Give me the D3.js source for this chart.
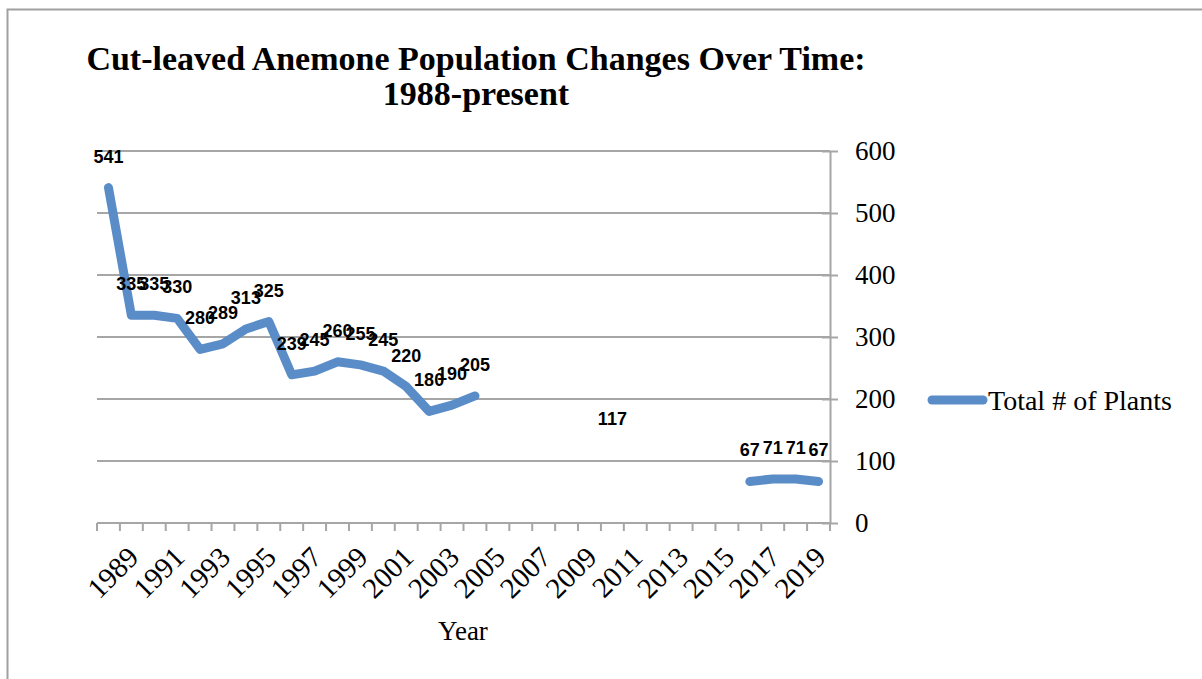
<!DOCTYPE html>
<html>
<head>
<meta charset="utf-8">
<script src="https://cdn.jsdelivr.net/npm/d3@7"></script>
<style>
  html, body { margin: 0; padding: 0; background: #fff; }
  svg { display: block; }
</style>
</head>
<body>
<svg id="chart" width="1202" height="679"></svg>
<script>
// Survey years (one category per year)
const years = [1988, 1989, 1990, 1991, 1992, 1993, 1994, 1995, 1996, 1997,
  1998, 1999, 2000, 2001, 2002, 2003, 2004, 2005, 2006, 2007, 2008, 2009,
  2010, 2011, 2012, 2013, 2014, 2015, 2016, 2017, 2018, 2019];

// Total number of plants counted; null where no count was made
const plants = [541, 335, 335, 330, 280, 289, 313, 325, 239, 245,
  260, 255, 245, 220, 180, 190, 205, null, null, null, null, null,
  117, null, null, null, null, null, 67, 71, 71, 67];

// Years that carry a label on the category axis
const xTickLabels = [1989, 1991, 1993, 1995, 1997, 1999, 2001, 2003, 2005,
  2007, 2009, 2011, 2013, 2015, 2017, 2019];

// Value axis ticks
const yTicks = [0, 100, 200, 300, 400, 500, 600];

const seriesName = "Total # of Plants";
const titleLines = ["Cut-leaved Anemone Population Changes Over Time:", "1988-present"];
const xTitle = "Year";

const data = years.map((y, i) => ({ year: y, value: plants[i] }));

const svg = d3.select("#chart");
const serif = "'Liberation Serif', 'DejaVu Serif', serif";
const sans = "'Liberation Sans', Arial, sans-serif";
const gridColor = "#a6a6a6";
const lineColor = "#5a8dc8";

// Outer chart frame
svg.append("rect")
  .attr("x", 7.5).attr("y", 9.5)
  .attr("width", 1400).attr("height", 900)
  .attr("fill", "none").attr("stroke", "#a0a0a0").attr("stroke-width", 2);

const plot = { left: 97, right: 830, top: 151, bottom: 523 };

const x = d3.scaleBand().domain(years).range([plot.left, plot.right]).padding(0);
const y = d3.scaleLinear().domain([0, 600]).range([plot.bottom, plot.top]);
const cx = yr => x(yr) + x.bandwidth() / 2;

// Horizontal gridlines
svg.append("g").selectAll("line")
  .data(yTicks.filter(t => t > 0))
  .join("line")
  .attr("x1", plot.left).attr("x2", plot.right)
  .attr("y1", d => y(d)).attr("y2", d => y(d))
  .attr("stroke", gridColor).attr("stroke-width", 2);

// Value axis on the right
const yAxis = svg.append("g")
  .attr("transform", `translate(${plot.right},0)`)
  .call(d3.axisRight(y).tickValues(yTicks).tickSize(8).tickPadding(17).tickSizeOuter(0));
yAxis.select(".domain").attr("stroke", gridColor).attr("stroke-width", 2);
yAxis.selectAll(".tick line").attr("stroke", gridColor).attr("stroke-width", 2).attr("x1", -8);
yAxis.selectAll(".tick text")
  .attr("font-family", serif).attr("font-size", 27).attr("fill", "#000");

// Category axis: ticks on category boundaries
const xAxisG = svg.append("g");
xAxisG.append("line")
  .attr("x1", plot.left).attr("x2", plot.right)
  .attr("y1", plot.bottom).attr("y2", plot.bottom)
  .attr("stroke", gridColor).attr("stroke-width", 2);
const boundaries = years.map(yr => x(yr)).concat([plot.right]);
xAxisG.selectAll("line.tick")
  .data(boundaries)
  .join("line")
  .attr("class", "tick")
  .attr("x1", d => d).attr("x2", d => d)
  .attr("y1", plot.bottom).attr("y2", plot.bottom + 8)
  .attr("stroke", gridColor).attr("stroke-width", 2);
xAxisG.selectAll("text")
  .data(xTickLabels)
  .join("text")
  .attr("transform", d => `translate(${cx(d) + 9},${plot.bottom + 36}) rotate(-45)`)
  .attr("text-anchor", "end")
  .attr("font-family", serif).attr("font-size", 29).attr("fill", "#000")
  .text(d => d);

// Series line, broken where counts are missing; a lone count has no segment
const isDef = i => i >= 0 && i < data.length && data[i].value !== null;
const line = d3.line()
  .defined((d, i) => isDef(i) && (isDef(i - 1) || isDef(i + 1)))
  .x(d => cx(d.year))
  .y(d => y(d.value));
svg.append("path")
  .datum(data)
  .attr("d", line)
  .attr("fill", "none")
  .attr("stroke", lineColor)
  .attr("stroke-width", 9)
  .attr("stroke-linejoin", "round")
  .attr("stroke-linecap", "round");

// Data labels above each point
svg.append("g").selectAll("text")
  .data(data.filter(d => d.value !== null))
  .join("text")
  .attr("x", d => cx(d.year))
  .attr("y", d => y(d.value) - 25)
  .attr("text-anchor", "middle")
  .attr("font-family", sans).attr("font-weight", "bold")
  .attr("font-size", 18).attr("fill", "#000")
  .text(d => d.value);

// Chart title
svg.append("g").selectAll("text")
  .data(titleLines)
  .join("text")
  .attr("x", 476)
  .attr("y", (d, i) => 70 + i * 35)
  .attr("text-anchor", "middle")
  .attr("font-family", serif).attr("font-weight", "bold")
  .attr("font-size", 34).attr("fill", "#000")
  .text(d => d);

// Axis title
svg.append("text")
  .attr("x", 463).attr("y", 640)
  .attr("text-anchor", "middle")
  .attr("font-family", serif).attr("font-size", 27).attr("fill", "#000")
  .text(xTitle);

// Legend
const legend = svg.append("g");
legend.append("line")
  .attr("x1", 932).attr("x2", 983)
  .attr("y1", 400).attr("y2", 400)
  .attr("stroke", lineColor).attr("stroke-width", 9)
  .attr("stroke-linecap", "round");
legend.append("text")
  .attr("x", 988).attr("y", 410)
  .attr("font-family", serif).attr("font-size", 28).attr("fill", "#000")
  .text(seriesName);
</script>
</body>
</html>
